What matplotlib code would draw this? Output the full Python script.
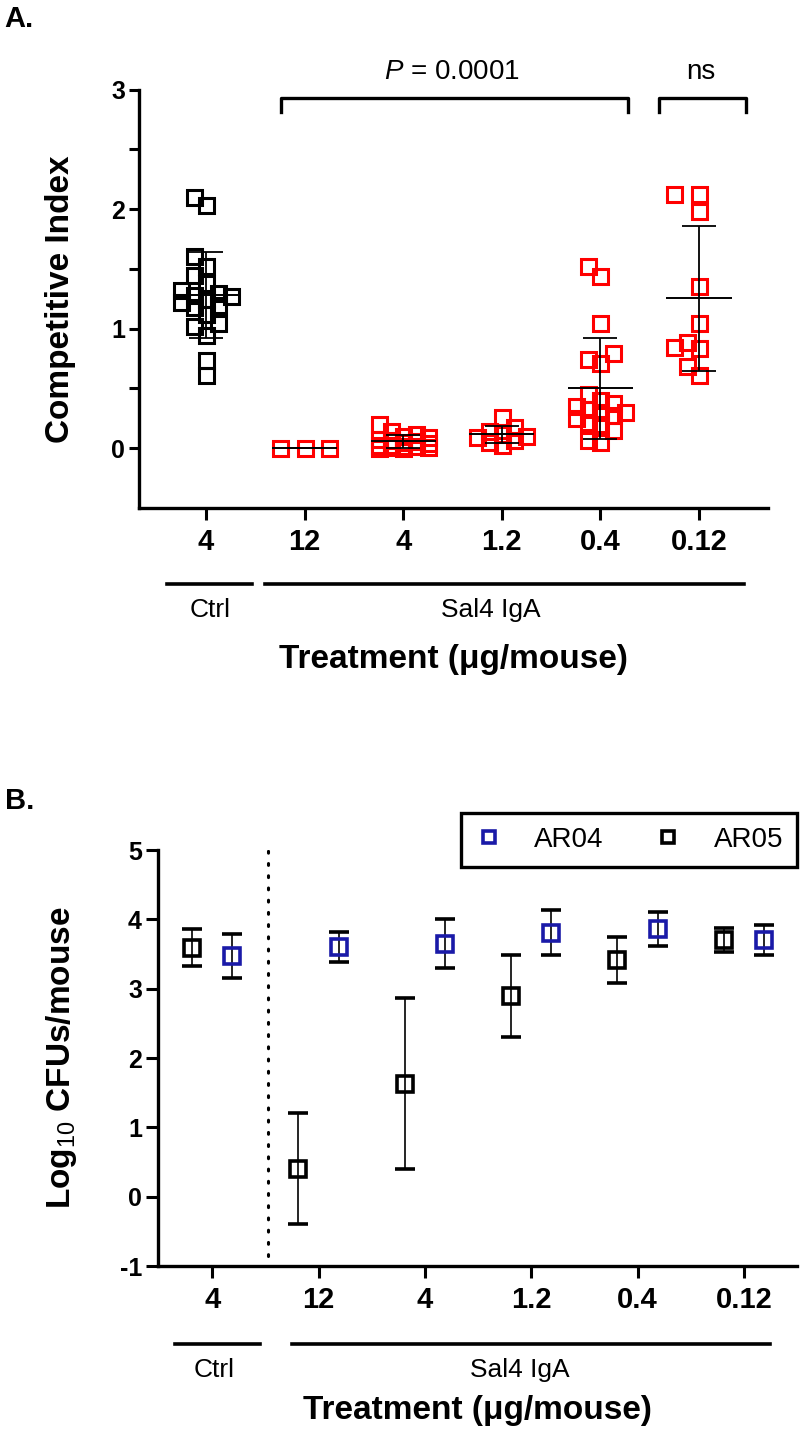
import numpy as np
import matplotlib.pyplot as plt

plt.rcParams['font.family'] = ['Liberation Sans', 'DejaVu Sans']
plt.rcParams['font.weight'] = 'bold'
plt.rcParams['axes.unicode_minus'] = False
plt.rcParams['mathtext.fontset'] = 'custom'
plt.rcParams['mathtext.rm'] = 'Liberation Sans:weight=normal'
plt.rcParams['mathtext.it'] = 'Liberation Sans:style=italic:weight=normal'
plt.rcParams['mathtext.bf'] = 'Liberation Sans:weight=bold'

# ---- data ----
dose_labels = ['4', '12', '4', '1.2', '0.4', '0.12']

# panel A: competitive index per mouse
ci_ctrl = [2.10, 2.03, 1.61, 1.52, 1.45, 1.38, 1.32, 1.30, 1.28, 1.27,
           1.25, 1.22, 1.20, 1.18, 1.12, 1.05, 1.02, 0.95, 0.74, 0.61]
ci_12 = [0.0, 0.0, 0.0]
ci_4 = [0.20, 0.14, 0.12, 0.10, 0.09, 0.08, 0.07, 0.06, 0.05, 0.04,
        0.03, 0.03, 0.02, 0.02, 0.01, 0.01, 0.0, 0.0]
ci_1p2 = [0.26, 0.18, 0.14, 0.12, 0.10, 0.09, 0.07, 0.05, 0.03]
ci_0p4 = [1.52, 1.44, 1.05, 0.80, 0.75, 0.71, 0.45, 0.40, 0.38, 0.35,
          0.33, 0.30, 0.30, 0.28, 0.25, 0.22, 0.20, 0.15, 0.07, 0.05]
ci_0p12 = [2.13, 2.13, 1.98, 1.36, 1.05, 0.89, 0.85, 0.84, 0.69, 0.61]

# panel B: log10 CFUs/mouse, mean and SD
ar04_mean = [3.47, 3.60, 3.65, 3.81, 3.86, 3.70]
ar04_sd = [0.32, 0.22, 0.35, 0.33, 0.25, 0.22]
ar05_mean = [3.59, 0.40, 1.63, 2.89, 3.41, 3.70]
ar05_sd = [0.27, 0.80, 1.23, 0.59, 0.33, 0.17]


def swarm(vals, step=0.125, nmax=2, xpx=98.6, ypx=119.5, dmin=12.5):
    # greedy scatter-dot layout: put each point at the nearest free slot
    vals = np.asarray(vals, float)
    offs = np.zeros(len(vals))
    cands = [0.0]
    for k in range(1, nmax + 1):
        cands += [-k * step, k * step]
    placed = []
    for i in np.argsort(vals):
        best, best_d = 0.0, -1
        for c in cands:
            if placed:
                d = min(np.hypot((c - px) * xpx, (vals[i] - py) * ypx)
                        for px, py in placed)
            else:
                d = 1e9
            if d >= dmin:
                best = c
                break
            if d > best_d:
                best, best_d = c, d
        offs[i] = best
        placed.append((best, vals[i]))
    return offs


fig = plt.figure(figsize=(8, 14.34), dpi=100)
W, H = 800, 1434

# ================= panel A =================
axA = fig.add_axes([139 / W, 1 - 508 / H, (768 - 139) / W, (508 - 89.5) / H])
groups = [ci_ctrl, ci_12, ci_4, ci_1p2, ci_0p4, ci_0p12]
colors = ['black', 'red', 'red', 'red', 'red', 'red']
for i, (vals, c) in enumerate(zip(groups, colors)):
    vals = np.asarray(vals)
    offs = swarm(vals, step=0.25 if i == 1 else 0.125)
    axA.plot(i + offs, vals, 's', ls='none', mfc='none', mec=c, mew=2.2,
             ms=10.8, zorder=3)
    m = vals.mean()
    sd = vals.std(ddof=1)
    axA.hlines(m, i - 0.33, i + 0.33, color='black', lw=1.4, zorder=4)
    axA.errorbar(i, m, yerr=sd, fmt='none', ecolor='black', elinewidth=1.3,
                 capsize=12, capthick=1.3, zorder=4)

axA.set_xlim(-0.68, 5.70)
axA.set_ylim(-0.5, 3)
for s in ['top', 'right']:
    axA.spines[s].set_visible(False)
for s in ['left', 'bottom']:
    axA.spines[s].set_linewidth(2.4)
axA.set_yticks([0, 1, 2, 3])
axA.set_yticks([0.5, 1.5, 2.5], minor=True)
axA.set_xticks(range(6))
axA.set_xticklabels(dose_labels)
axA.tick_params(axis='y', which='both', length=7, width=2.2, labelsize=18, pad=3)
axA.tick_params(axis='x', length=8.6, width=2.2, labelsize=21, pad=6)

# significance brackets
axA.plot([0.76, 0.76, 4.28, 4.28], [2.81, 2.93, 2.93, 2.81], color='black',
         lw=2.4, clip_on=False)
axA.plot([4.59, 4.59, 5.48, 5.48], [2.81, 2.93, 2.93, 2.81], color='black',
         lw=2.4, clip_on=False)
axA.text(2.49, 3.15, '$P$ = 0.0001', fontsize=20, fontweight='normal',
         ha='center', va='center')
axA.text(5.02, 3.15, 'ns', fontsize=20, fontweight='normal',
         ha='center', va='center')

# group bars under x axis
trA = axA.get_xaxis_transform()
axA.plot([-0.40, 0.47], [-0.182, -0.182], color='black', lw=2.6,
         transform=trA, clip_on=False)
axA.plot([0.60, 5.46], [-0.182, -0.182], color='black', lw=2.6,
         transform=trA, clip_on=False)
axA.text(0.04, -0.244, 'Ctrl', transform=trA, fontsize=19,
         fontweight='normal', ha='center', va='center')
axA.text(2.89, -0.244, 'Sal4 IgA', transform=trA, fontsize=19,
         fontweight='normal', ha='center', va='center')

fig.text(60.5 / W, 1 - 299 / H, 'Competitive Index', rotation=90,
         fontsize=24, ha='center', va='center')
fig.text(453 / W, 1 - 659 / H, 'Treatment (μg/mouse)', fontsize=24,
         ha='center', va='center')
fig.text(4 / W, 1 - 5 / H, 'A.', fontsize=21, ha='left', va='top')

# ================= panel B =================
axB = fig.add_axes([158 / W, 1 - 1266 / H, (797 - 158) / W, (1266 - 850) / H])
x = np.arange(6)
blue = '#1a1aa8'
eb05 = axB.errorbar(x - 0.19, ar05_mean, yerr=ar05_sd, fmt='s', mfc='none',
                    mec='black', mew=2.6, ms=11.5, ecolor='black',
                    elinewidth=1.2, capsize=7, capthick=1.2)
eb04 = axB.errorbar(x + 0.19, ar04_mean, yerr=ar04_sd, fmt='s', mfc='none',
                    mec=blue, mew=2.6, ms=11.5, ecolor='black',
                    elinewidth=1.2, capsize=7, capthick=1.2)
axB.plot([0.52, 0.52], [-0.85, 5.0], color='black', lw=2.2,
         ls=(0, (0.6, 3.4)), dash_capstyle='round')

axB.set_xlim(-0.51, 5.50)
axB.set_ylim(-1, 5)
for s in ['top', 'right']:
    axB.spines[s].set_visible(False)
for s in ['left', 'bottom']:
    axB.spines[s].set_linewidth(2.4)
axB.set_yticks(range(-1, 6))
axB.set_xticks(range(6))
axB.set_xticklabels(dose_labels)
axB.tick_params(axis='y', length=8.6, width=2.2, labelsize=18, pad=3)
axB.tick_params(axis='x', length=8.6, width=2.2, labelsize=21, pad=6)

leg = axB.legend([eb04[0], eb05[0]], ['AR04', 'AR05'], loc='upper right',
                 bbox_to_anchor=(1.0, 1.089), ncol=2, fancybox=False,
                 edgecolor='black', framealpha=1,
                 prop={'size': 20, 'weight': 'normal'}, handlelength=1.0,
                 handletextpad=1.15, columnspacing=1.8, borderpad=0.5,
                 borderaxespad=0, markerscale=0.8)
leg.get_frame().set_linewidth(2.4)

trB = axB.get_xaxis_transform()
axB.plot([-0.35, 0.45], [-0.1875, -0.1875], color='black', lw=2.6,
         transform=trB, clip_on=False)
axB.plot([0.75, 5.25], [-0.1875, -0.1875], color='black', lw=2.6,
         transform=trB, clip_on=False)
axB.text(0.02, -0.25, 'Ctrl', transform=trB, fontsize=19,
         fontweight='normal', ha='center', va='center')
axB.text(2.89, -0.25, 'Sal4 IgA', transform=trB, fontsize=19,
         fontweight='normal', ha='center', va='center')

fig.text(62 / W, 1 - 1058 / H, 'Log$_{10}$ CFUs/mouse', rotation=90,
         fontsize=24, ha='center', va='center')
fig.text(477 / W, 1 - 1410 / H, 'Treatment (μg/mouse)', fontsize=24,
         ha='center', va='center')
fig.text(5 / W, 1 - 787 / H, 'B.', fontsize=21, ha='left', va='top')

fig.savefig('out.png', dpi=100)
